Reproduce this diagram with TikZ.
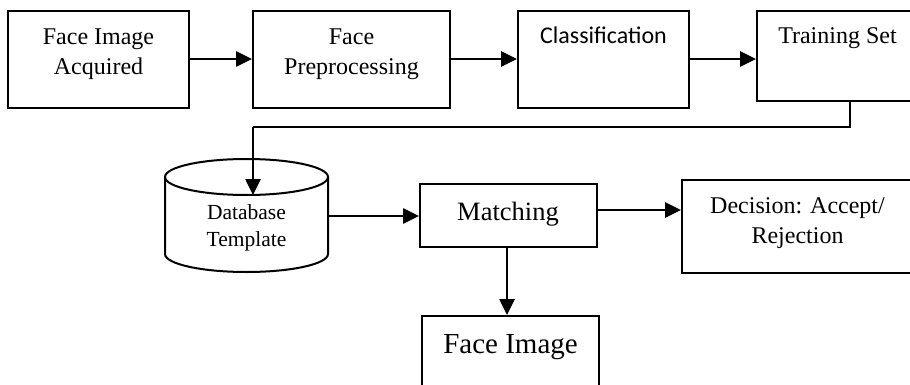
\documentclass[tikz,border=0pt]{standalone}
\usepackage{fontspec}
\setmainfont{Liberation Serif}
\newfontfamily\calibrifont{Carlito}
\usetikzlibrary{arrows.meta}
\tikzset{
  box/.style={draw, line width=2pt, rectangle, inner sep=0pt},
  arr/.style={line width=2.6pt, -{Triangle[length=16pt,width=15pt]}},
  thinline/.style={line width=1.5pt},
  lbl/.style={anchor=base, inner sep=0pt, font=\fontsize{24}{30}\selectfont},
}
\begin{document}
\begin{tikzpicture}[x=1pt,y=-1pt]
\useasboundingbox (0,0) rectangle (910,385);
\clip (0,0) rectangle (910,385);
% boxes
\node[box, minimum width=181pt, minimum height=97pt] (b1) at (98.5,59.5) {};
\node[box, minimum width=197pt, minimum height=97pt] (b2) at (351.5,59.5) {};
\node[box, minimum width=171pt, minimum height=97pt] (b3) at (603.5,59.5) {};
\node[box, minimum width=158pt, minimum height=90pt] (b4) at (836,56) {};
\node[box, minimum width=177pt, minimum height=63pt] (match) at (508.5,215.5) {};
\node[box, minimum width=233pt, minimum height=93pt] (dec) at (798.5,226.5) {};
\node[box, minimum width=177pt, minimum height=80pt] (face) at (510.5,356) {};
% cylinder
\node[minimum width=163pt, minimum height=113pt, inner sep=0pt] (db) at (246.5,215.5) {};
\draw[line width=2pt] (165,177) -- (165,254) arc[start angle=180, end angle=360, x radius=81.5, y radius=-18] -- (328,177);
\draw[line width=2pt] (246.5,177) ellipse [x radius=81.5, y radius=18];
% texts
\node[lbl] (t1a) at (98.5,45) {Face Image};
\node[lbl] (t1b) at (98.5,75) {Acquired};
\node[lbl] (t2a) at (351.5,45) {Face};
\node[lbl] (t2b) at (351.5,75) {Preprocessing};
\node[lbl, font=\calibrifont\fontsize{24}{30}\selectfont] (t3) at (603.5,43.5) {Classification};
\node[lbl] (t4) at (837.5,44) {Training Set};
\node[lbl, font=\fontsize{21.5}{27}\selectfont] (tdba) at (246.5,219) {Database};
\node[lbl, font=\fontsize{21.5}{27}\selectfont] (tdbb) at (246.5,246) {Template};
\node[lbl, font=\fontsize{26.5}{30}\selectfont] (tm) at (508,220) {Matching};
\node[lbl] (tda) at (797.5,213) {Decision: Accept/};
\node[lbl] (tdb) at (797.5,243) {Rejection};
\node[lbl, font=\fontsize{29}{34}\selectfont] (tf) at (510.5,353) {Face Image};
% connectors
\draw[arr] (b1.east |- 0,59) -- (b2.west |- 0,59);
\draw[arr] (b2.east |- 0,59) -- (b3.west |- 0,59);
\draw[arr] (b3.east |- 0,59) -- (b4.west |- 0,59);
\coordinate (c1) at (850,127);
\coordinate (c2) at (253,127);
\draw[thinline] (b4.south -| c1) -- (c1) -- (c2);
\draw[arr] (c2) -- (253,195);
\draw[arr] (db.east |- 0,216) -- (match.west |- 0,216);
\draw[arr] (match.east |- 0,210) -- (dec.west |- 0,210);
\draw[arr] (match.south -| 507,0) -- (face.north -| 507,0);
\end{tikzpicture}
\end{document}
